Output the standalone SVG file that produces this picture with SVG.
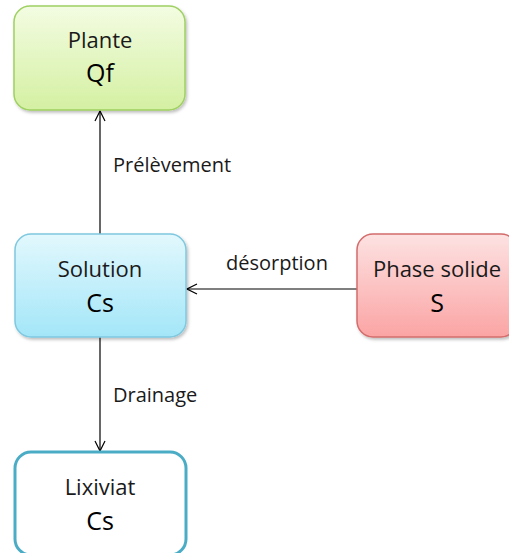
<svg xmlns="http://www.w3.org/2000/svg" width="509" height="553" viewBox="0 0 509 553">
<defs>
<linearGradient id="gGreen" x1="0" y1="0" x2="0" y2="1"><stop offset="0" stop-color="#f3fce2"/><stop offset="1" stop-color="#d4f0a2"/></linearGradient>
<linearGradient id="gBlue" x1="0" y1="0" x2="0" y2="1"><stop offset="0" stop-color="#e2f8fd"/><stop offset="1" stop-color="#a3e6f8"/></linearGradient>
<linearGradient id="gRed" x1="0" y1="0" x2="0" y2="1"><stop offset="0" stop-color="#fde2e2"/><stop offset="1" stop-color="#fba4a4"/></linearGradient>
<filter id="sh" x="-10%" y="-10%" width="130%" height="130%"><feDropShadow dx="1.5" dy="2" stdDeviation="1.5" flood-color="#000" flood-opacity="0.25"/></filter>
<marker id="arr" viewBox="0 0 12 12" refX="11" refY="6" markerWidth="12" markerHeight="12" markerUnits="userSpaceOnUse" orient="auto"><path d="M1,1 L11,6 L1,11" fill="none" stroke="#000" stroke-width="1.2"/></marker>
</defs>
<style>
.name{font-family:"Open Sans","Liberation Sans",sans-serif;font-size:22px;fill:#1a1a1a;text-anchor:middle}
.val{font-family:"Open Sans","Liberation Sans",sans-serif;font-size:25px;fill:#000;text-anchor:middle}
.lbl{font-family:"Open Sans","Liberation Sans",sans-serif;font-size:20px;fill:#1a1a1a}
.conn{stroke:#000;stroke-width:1.2;fill:none;marker-end:url(#arr)}
</style>
<g id="connectors">
<line class="conn" x1="100" y1="234" x2="100" y2="111"/>
<line class="conn" x1="100" y1="337" x2="100" y2="451"/>
<line class="conn" x1="357" y1="289" x2="187" y2="289"/>
<text class="lbl" x="113" y="172">Prélèvement</text>
<text class="lbl" x="226" y="270">désorption</text>
<text class="lbl" x="113" y="402">Drainage</text>
</g>
<g id="plante">
<rect x="14" y="6" width="171" height="104" rx="16" fill="url(#gGreen)" stroke="#9fd062" stroke-width="1.5" filter="url(#sh)"/>
<text class="name" x="100" y="48">Plante</text>
<text class="val" x="100" y="82">Qf</text>
</g>
<g id="solution">
<rect x="15" y="234" width="171" height="103" rx="16" fill="url(#gBlue)" stroke="#7fc8df" stroke-width="1.5" filter="url(#sh)"/>
<text class="name" x="100" y="277">Solution</text>
<text class="val" x="100" y="312">Cs</text>
</g>
<g id="phase">
<rect x="357" y="234" width="160" height="103" rx="16" fill="url(#gRed)" stroke="#d46c6c" stroke-width="1.5" filter="url(#sh)"/>
<text class="name" x="437" y="277">Phase solide</text>
<text class="val" x="437" y="312">S</text>
</g>
<g id="lixiviat">
<rect x="15" y="452" width="171" height="103" rx="16" fill="#fff" stroke="#4bacc6" stroke-width="3"/>
<text class="name" x="100" y="495">Lixiviat</text>
<text class="val" x="100" y="530">Cs</text>
</g>
</svg>
